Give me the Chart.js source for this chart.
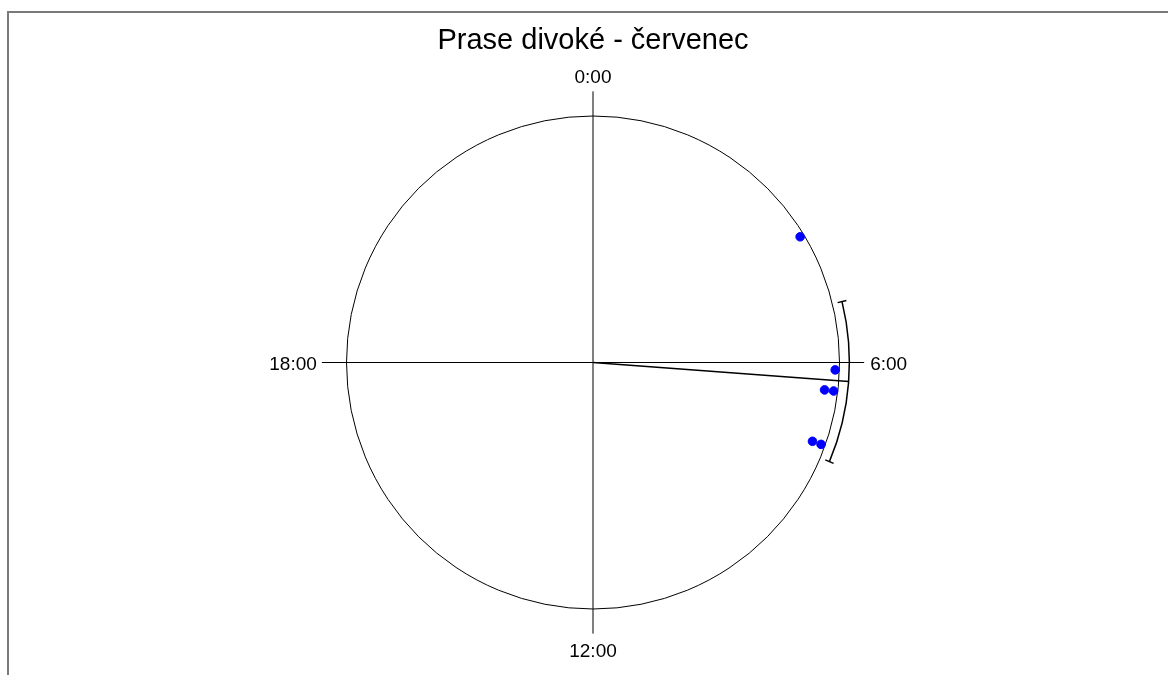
<!DOCTYPE html>
<html>
<head>
<meta charset="utf-8">
<script src="https://cdn.jsdelivr.net/npm/chart.js@4.4.0/dist/chart.umd.min.js"></script>
<style>
    html, body { margin: 0; padding: 0; background: #fff; }
    #wrap { width: 1168px; height: 675px; }
</style>
</head>
<body>
<div id="wrap"><canvas id="circ"></canvas></div>
<script>
const obsTimes = ['3:55', '6:07', '6:27', '6:27', '7:19', '7:19'];
// 95% confidence interval of the mean
const ciTimes = ['5:05', '7:31'];
const axisLabels = ['0:00', '6:00', '12:00', '18:00'];
const titleText = 'Prase divoké - červenec';

const toHours = t => {
    const [h, m] = t.split(':').map(Number);
    return h + m / 60;
};
const toAngle = t => toHours(t) / 24 * 2 * Math.PI;   // clockwise from north

// stack repeated observations inward
const seen = {};
const points = obsTimes.map(t => {
    const k = seen[t] || 0;
    seen[t] = k + 1;
    const a = toAngle(t);
    const r = 0.983 - k * 0.037;
    return { x: r * Math.sin(a), y: r * Math.cos(a) };
});

// circular mean of the observations
let sx = 0, sy = 0;
obsTimes.forEach(t => { sx += Math.sin(toAngle(t)); sy += Math.cos(toAngle(t)); });
const meanAngle = Math.atan2(sx, sy);

const font = '19px "Liberation Sans", Arial, sans-serif';

const polarFrame = {
    id: 'polarFrame',
    beforeDraw(chart) {
        const ctx = chart.ctx;
        ctx.save();
        ctx.strokeStyle = '#7a7a7a';
        ctx.lineWidth = 2;
        ctx.beginPath();
        ctx.moveTo(8, chart.height);
        ctx.lineTo(8, 12);
        ctx.lineTo(chart.width, 12);
        ctx.stroke();
        ctx.restore();
    },
    beforeDatasetsDraw(chart) {
        const { ctx, scales: { x, y } } = chart;
        const cx = x.getPixelForValue(0);
        const cy = y.getPixelForValue(0);
        const rad = x.getPixelForValue(1) - cx;
        const pt = (r, a) => [x.getPixelForValue(r * Math.sin(a)), y.getPixelForValue(r * Math.cos(a))];

        ctx.save();
        ctx.strokeStyle = '#000';
        ctx.lineWidth = 1;

        ctx.beginPath();
        ctx.arc(cx, cy, rad, 0, Math.PI * 2);
        ctx.stroke();

        // cross axes with hour labels
        ctx.font = font;
        ctx.fillStyle = '#000';
        axisLabels.forEach(lbl => {
            const a = toAngle(lbl);
            const [ex, ey] = pt(1.1, a);
            ctx.beginPath();
            ctx.moveTo(cx, cy);
            ctx.lineTo(ex, ey);
            ctx.stroke();
            const s = Math.round(Math.sin(a)), c = Math.round(Math.cos(a));
            if (c === 1) {
                ctx.textAlign = 'center';
                ctx.fillText(lbl, ex, ey - 8);
            } else if (c === -1) {
                ctx.textAlign = 'center';
                ctx.fillText(lbl, ex, ey + 23);
            } else if (s === 1) {
                ctx.textAlign = 'left';
                ctx.fillText(lbl, ex + 6, ey + 7.5);
            } else {
                ctx.textAlign = 'right';
                ctx.fillText(lbl, ex - 5, ey + 7.5);
            }
        });

        // mean vector and confidence arc
        const rArc = 1.04;
        ctx.lineWidth = 1.5;
        const [mx, my] = pt(rArc, meanAngle);
        ctx.beginPath();
        ctx.moveTo(cx, cy);
        ctx.lineTo(mx, my);
        ctx.stroke();

        const a0 = toAngle(ciTimes[0]), a1 = toAngle(ciTimes[1]);
        ctx.beginPath();
        ctx.arc(cx, cy, rad * rArc, a0 - Math.PI / 2, a1 - Math.PI / 2);
        ctx.stroke();
        [a0, a1].forEach(a => {
            const rr = rad * rArc;
            ctx.beginPath();
            ctx.moveTo(cx + (rr - 4.5) * Math.sin(a), cy - (rr - 4.5) * Math.cos(a));
            ctx.lineTo(cx + (rr + 4.5) * Math.sin(a), cy - (rr + 4.5) * Math.cos(a));
            ctx.stroke();
        });
        ctx.restore();
    }
};

new Chart(document.getElementById('circ'), {
    type: 'scatter',
    data: {
        datasets: [{
            data: points,
            backgroundColor: '#0000ff',
            borderColor: '#0000ff',
            pointRadius: 4.3,
            pointHoverRadius: 4.3,
            clip: false
        }]
    },
    options: {
        responsive: true,
        maintainAspectRatio: false,
        animation: false,
        layout: {
            padding: { left: 346.5, right: 328.5, top: 24, bottom: 66 }
        },
        plugins: {
            legend: { display: false },
            tooltip: { enabled: false },
            title: {
                display: true,
                text: titleText,
                color: '#000',
                font: { family: '"Liberation Sans", Arial, sans-serif', size: 29, weight: 'normal', lineHeight: 1.2 },
                padding: { top: 0, bottom: 57.2 }
            }
        },
        scales: {
            x: { type: 'linear', min: -1, max: 1, display: false },
            y: { type: 'linear', min: -1, max: 1, display: false }
        }
    },
    plugins: [polarFrame]
});
</script>
</body>
</html>
